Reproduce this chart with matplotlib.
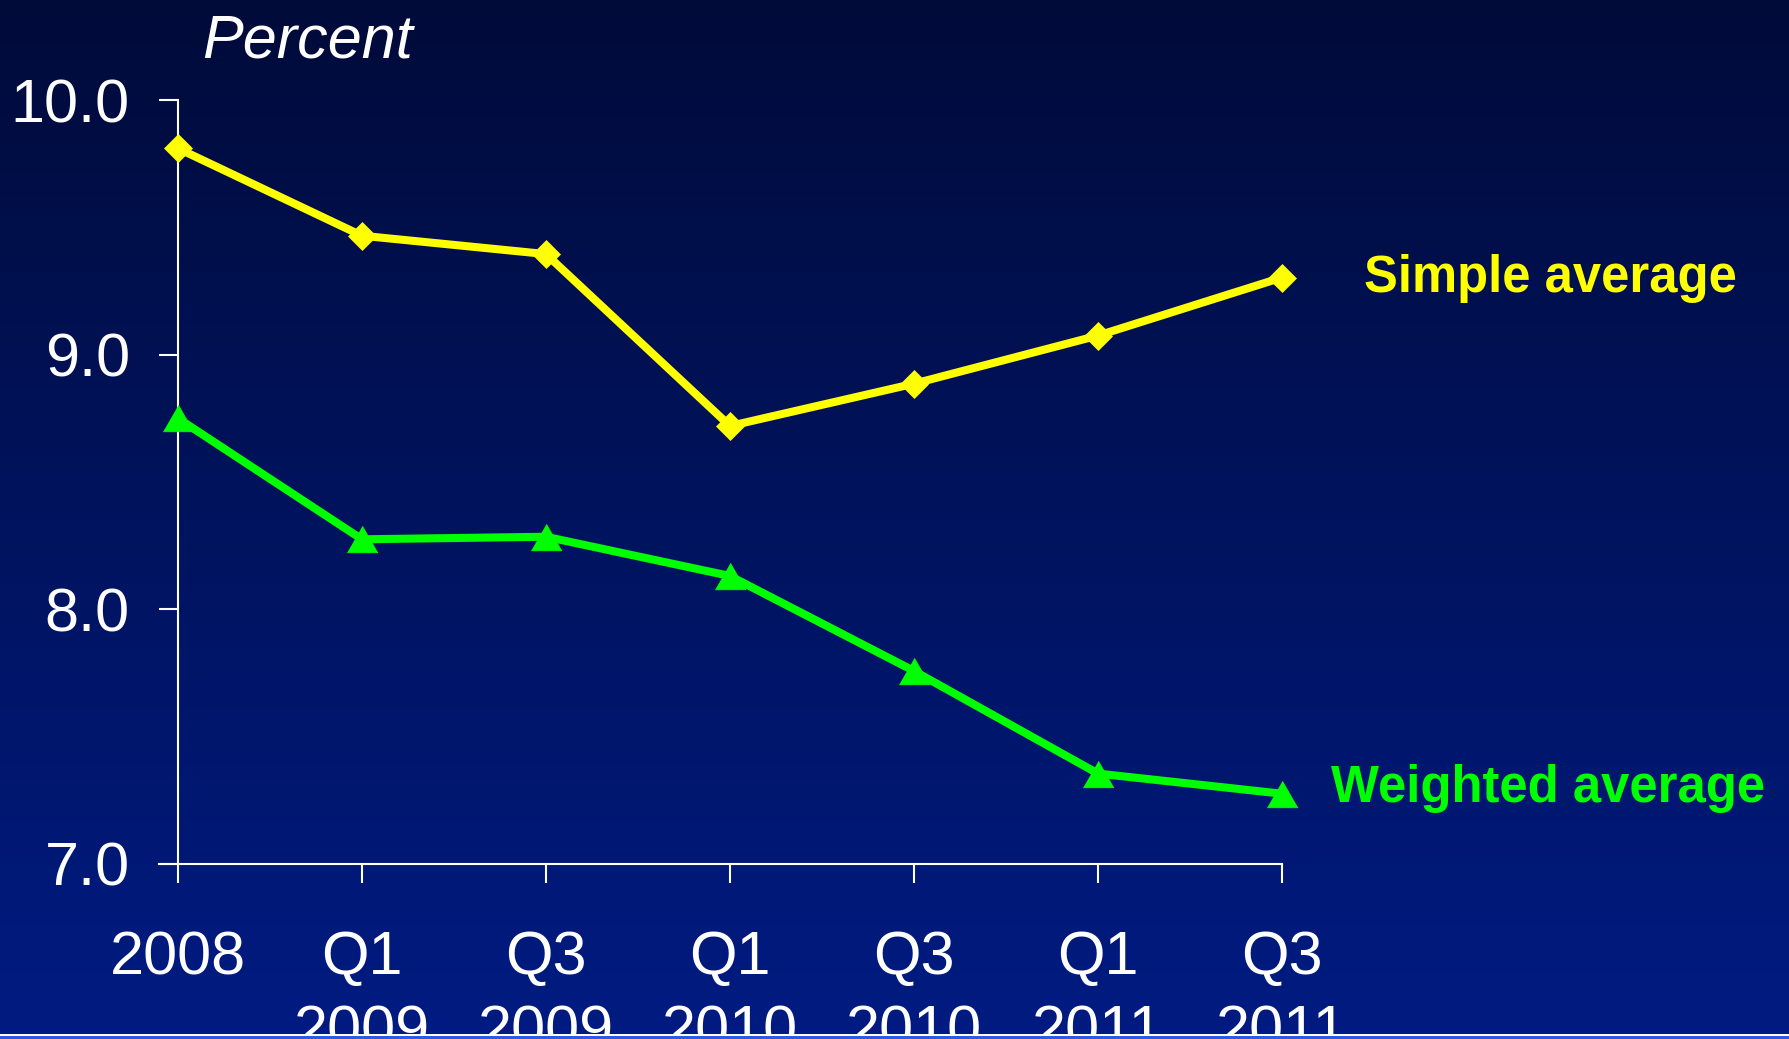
import numpy as np
import matplotlib
matplotlib.use("Agg")
import matplotlib.pyplot as plt
from matplotlib.patches import Rectangle
from matplotlib.ticker import FormatStrFormatter

plt.rcParams['font.family'] = ['Liberation Sans', 'DejaVu Sans']

# Periods and series
periods = ["2008", "Q1\n2009", "Q3\n2009", "Q1\n2010", "Q3\n2010", "Q1\n2011", "Q3\n2011"]
simple_avg = [9.81, 9.467, 9.395, 8.72, 8.886, 9.075, 9.303]
weighted_avg = [8.75, 8.275, 8.285, 8.131, 7.758, 7.355, 7.276]
y_ticks = [7.0, 8.0, 9.0, 10.0]

W, H = 1790, 1039
fig = plt.figure(figsize=(W / 100, H / 100), dpi=100)

# Vertical gradient background
bg = fig.add_axes([0, 0, 1, 1], zorder=-10)
top = np.array([0, 11, 58]) / 255
bottom = np.array([0, 27, 130]) / 255
t = np.linspace(0, 1, 512)[:, None]
grad = top[None, :] * (1 - t) + bottom[None, :] * t
bg.imshow(grad[:, None, :], aspect='auto', extent=[0, 1, 0, 1], origin='upper')
bg.set_axis_off()

# Bottom border lines
fig.add_artist(Rectangle((0, 0), 1, 3 / H, transform=fig.transFigure,
                         color='#2b5be0', lw=0))
fig.add_artist(Rectangle((0, 3 / H), 1, 2 / H, transform=fig.transFigure,
                         color='white', lw=0))

left_px, right_px, top_px, bot_px = 159, 1282, 100, 864
ax = fig.add_axes([left_px / W, (H - bot_px) / H,
                   (right_px - left_px) / W, (bot_px - top_px) / H])
ax.patch.set_alpha(0)

x = np.arange(len(periods))
ax.plot(x, simple_avg, color='#ffff00', lw=5.8, marker='D', ms=14.5,
        mec='#ffff00', mew=0.5, clip_on=False, zorder=3)
tri = [(-1, -0.87), (1, -0.87), (0, 0.87)]
ax.plot(x, weighted_avg, color='#00ff00', lw=5.8, marker=tri, ms=22,
        mec='#00ff00', mew=0.5, clip_on=False, zorder=3)

ax.set_xlim(-0.103, 6)
ax.set_ylim(7, 10)

for s in ['top', 'right']:
    ax.spines[s].set_visible(False)
ax.spines['left'].set_position(('data', 0))
for s in ['left', 'bottom']:
    ax.spines[s].set_color('white')
    ax.spines[s].set_linewidth(1.5)

ax.set_yticks(y_ticks)
ax.yaxis.set_major_formatter(FormatStrFormatter('%.1f'))
ax.set_xticks(x)
ax.set_xticklabels(periods, linespacing=1.4)
ax.tick_params(axis='both', colors='white', direction='out', length=13.7,
               width=1.5, labelsize=44)
ax.tick_params(axis='x', pad=34)
ax.tick_params(axis='y', pad=21)

fig.text(308 / W, 1 - 57 / H, "Percent", color='white', fontsize=44,
         style='italic', ha='center', va='baseline')
fig.text(1550 / W, 1 - 292 / H, "Simple average", color='#ffff00',
         fontsize=36.5, weight='bold', ha='center', va='baseline')
fig.text(1548 / W, 1 - 802 / H, "Weighted average", color='#00ff00',
         fontsize=36.5, weight='bold', ha='center', va='baseline')

fig.savefig("out.png", dpi=100)
